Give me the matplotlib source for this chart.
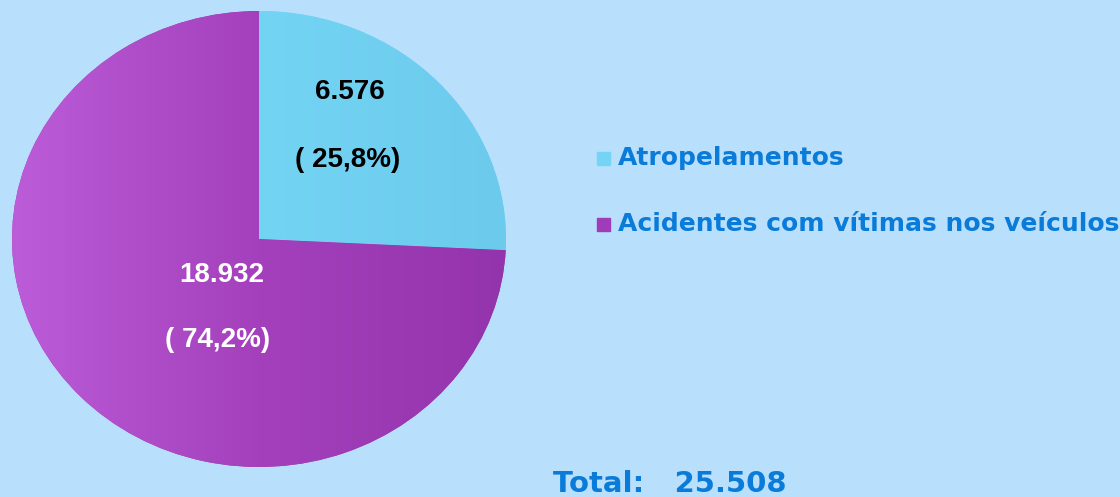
import matplotlib.pyplot as plt
import numpy as np
from matplotlib.colors import LinearSegmentedColormap

# data
categories = ["Atropelamentos", "Acidentes com vítimas nos veículos"]
values = [6576, 18932]
value_labels = ["6.576", "18.932"]
pct_labels = ["( 25,8%)", "( 74,2%)"]
total_label = "Total:   25.508"

bg = "#b8e0fd"
text_blue = "#0a7bd8"
wedge_colors = ["#74d4f6", "#a03cb8"]
gradients = [["#7cdcfc", "#74d4f4", "#6ccbec"],
             ["#bc5cd8", "#a440bc", "#9434ac"]]

W, H = 1120, 497
k = 247 / 228  # squash the pie vertically

fig = plt.figure(figsize=(W / 100, H / 100), dpi=100, facecolor=bg)
ax = fig.add_axes([0, 0, 1, 1])
ax.set_facecolor(bg)

cx, cy, r = 259, (H - 239) * k, 247

wedges, _ = ax.pie(values, colors=wedge_colors, startangle=90, counterclock=False,
                   center=(cx, cy), radius=r, frame=True,
                   wedgeprops=dict(linewidth=0))

# horizontal gradient fill clipped to each wedge
for w, cols in zip(wedges, gradients):
    cmap = LinearSegmentedColormap.from_list("g", cols)
    grad = np.linspace(0, 1, 256).reshape(1, -1)
    im = ax.imshow(grad, cmap=cmap, aspect="auto", interpolation="bicubic",
                   extent=(cx - r, cx + r, cy - r, cy + r), zorder=2)
    im.set_clip_path(w)

ax.set_aspect("auto")
ax.set_xlim(0, W)
ax.set_ylim(0, H * k)
ax.axis("off")

def ypix(p):
    return (H - p) * k

# slice labels
ax.text(350, ypix(92), value_labels[0], color="black", fontsize=20, fontweight="bold",
        family="Liberation Sans", ha="center", va="center", zorder=5)
ax.text(348, ypix(160), pct_labels[0], color="black", fontsize=20, fontweight="bold",
        family="Liberation Sans", ha="center", va="center", zorder=5)
ax.text(222, ypix(275), value_labels[1], color="white", fontsize=20, fontweight="bold",
        family="Liberation Sans", ha="center", va="center", zorder=5)
ax.text(218, ypix(340), pct_labels[1], color="white", fontsize=20, fontweight="bold",
        family="Liberation Sans", ha="center", va="center", zorder=5)

# legend
leg_y = [158, 224]
for name, col, yy in zip(categories, wedge_colors, leg_y):
    ax.add_patch(plt.Rectangle((597, ypix(yy + 6.5)), 13, 13 * k, color=col, zorder=5))
    ax.text(618, ypix(yy), name, color=text_blue, fontsize=18, fontweight="bold",
            family="DejaVu Sans", ha="left", va="center", zorder=5)

ax.text(553, ypix(484), total_label, color=text_blue, fontsize=21, fontweight="bold",
        family="DejaVu Sans", ha="left", va="center", zorder=5)

fig.savefig("out.png", dpi=100, facecolor=bg)
